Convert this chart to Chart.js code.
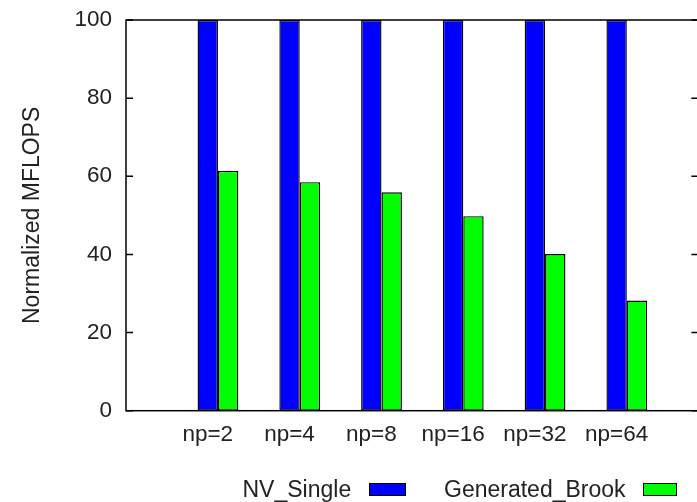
<!DOCTYPE html>
<html>
<head>
<meta charset="utf-8">
<script src="https://cdn.jsdelivr.net/npm/chart.js@4.4.0/dist/chart.umd.min.js"></script>
<style>
  html, body { margin: 0; padding: 0; background: #fff; overflow: hidden; width: 697px; height: 502px; }
  #wrap { position: absolute; left: 0; top: 0; width: 700px; height: 502px; }
  .lg { position: absolute; font-family: "Liberation Sans", Arial, sans-serif; font-size: 23px; line-height: 23px; color: #222; white-space: nowrap; }
  .sw { position: absolute; box-sizing: border-box; border: 1.5px solid #000; }
</style>
</head>
<body>
<div id="wrap"><canvas id="c"></canvas></div>
<div id="legend"></div>
<script>
// ---- data ----
const categories = ['np=2', 'np=4', 'np=8', 'np=16', 'np=32', 'np=64'];
const seriesNames = ['NV_Single', 'Generated_Brook'];
const nvSingle = [100, 100, 100, 100, 100, 100];
const generatedBrook = [61.4, 58.5, 55.9, 49.8, 40.1, 28.2];
const yTicks = [0, 20, 40, 60, 80, 100];
const yTitle = 'Normalized MFLOPS';

const seriesColors = ['#0000ff', '#00ff00'];
const FONT = '"Liberation Sans", Arial, sans-serif';
const TEXT = '#222';

// empty slots at both ends of the category axis (gnuplot-style padding)
const labels = [''].concat(categories, ['']);
const pad = arr => [null].concat(arr, [null]);

const framePlugin = {
  id: 'frame',
  afterDatasetsDraw(chart) {
    const { ctx, chartArea: a, scales: { y } } = chart;
    ctx.save();
    ctx.strokeStyle = '#000';
    ctx.lineWidth = 1.5;
    ctx.strokeRect(a.left, a.top, a.right - a.left, a.bottom - a.top);
    ctx.beginPath();
    y.ticks.forEach(t => {
      const py = y.getPixelForValue(t.value);
      ctx.moveTo(a.left, py); ctx.lineTo(a.left + 7, py);
      ctx.moveTo(a.right, py); ctx.lineTo(a.right - 7, py);
    });
    ctx.stroke();
    ctx.restore();
  }
};

new Chart(document.getElementById('c'), {
  type: 'bar',
  data: {
    labels: labels,
    datasets: [
      { label: '', data: pad(categories.map(() => null)), backgroundColor: 'rgba(0,0,0,0)', borderWidth: 0 },
      { label: seriesNames[0], data: pad(nvSingle), backgroundColor: seriesColors[0], borderColor: '#000', borderWidth: 1.4, borderSkipped: false },
      { label: seriesNames[1], data: pad(generatedBrook), backgroundColor: seriesColors[1], borderColor: '#000', borderWidth: 1.4, borderSkipped: false }
    ]
  },
  options: {
    responsive: true,
    maintainAspectRatio: false,
    animation: false,
    layout: { padding: { top: 20, right: 1.6, bottom: 0, left: 0 } },
    plugins: { legend: { display: false }, tooltip: { enabled: false } },
    datasets: { bar: { categoryPercentage: 0.748, barPercentage: 1.0 } },
    scales: {
      x: {
        type: 'category',
        offset: false,
        grid: { display: false, drawTicks: false },
        border: { display: false },
        ticks: { autoSkip: false, maxRotation: 0, minRotation: 0, padding: 11, color: TEXT, font: { family: FONT, size: 22.5 } },
        afterFit(s) { s.height = 91.3; s.paddingLeft = 0; s.paddingRight = 0; }
      },
      y: {
        min: 0, max: 100,
        grid: { display: false, drawTicks: false },
        border: { display: false },
        ticks: { padding: 14, color: TEXT, font: { family: FONT, size: 22.5 } },
        afterBuildTicks(s) { s.ticks = yTicks.map(v => ({ value: v })); },
        title: { display: true, text: yTitle, color: TEXT, font: { family: FONT, size: 23 }, padding: { top: 18.5, bottom: 0 } },
        afterFit(s) { s.width = 126; s.paddingTop = 0; s.paddingBottom = 0; }
      }
    }
  },
  plugins: [framePlugin]
});

// ---- legend (gnuplot style: text then swatch) ----
const legendLayout = [
  { textLeft: 242.5, boxLeft: 369, boxWidth: 37 },
  { textLeft: 444, boxLeft: 642.5, boxWidth: 34.5 }
];
const lg = document.getElementById('legend');
seriesNames.forEach((name, i) => {
  const t = document.createElement('div');
  t.className = 'lg';
  t.style.left = legendLayout[i].textLeft + 'px';
  t.style.top = '478.2px';
  t.textContent = name;
  lg.appendChild(t);
  const b = document.createElement('div');
  b.className = 'sw';
  b.style.left = legendLayout[i].boxLeft + 'px';
  b.style.top = '483px';
  b.style.width = legendLayout[i].boxWidth + 'px';
  b.style.height = '13px';
  b.style.background = seriesColors[i];
  lg.appendChild(b);
});
</script>
</body>
</html>
